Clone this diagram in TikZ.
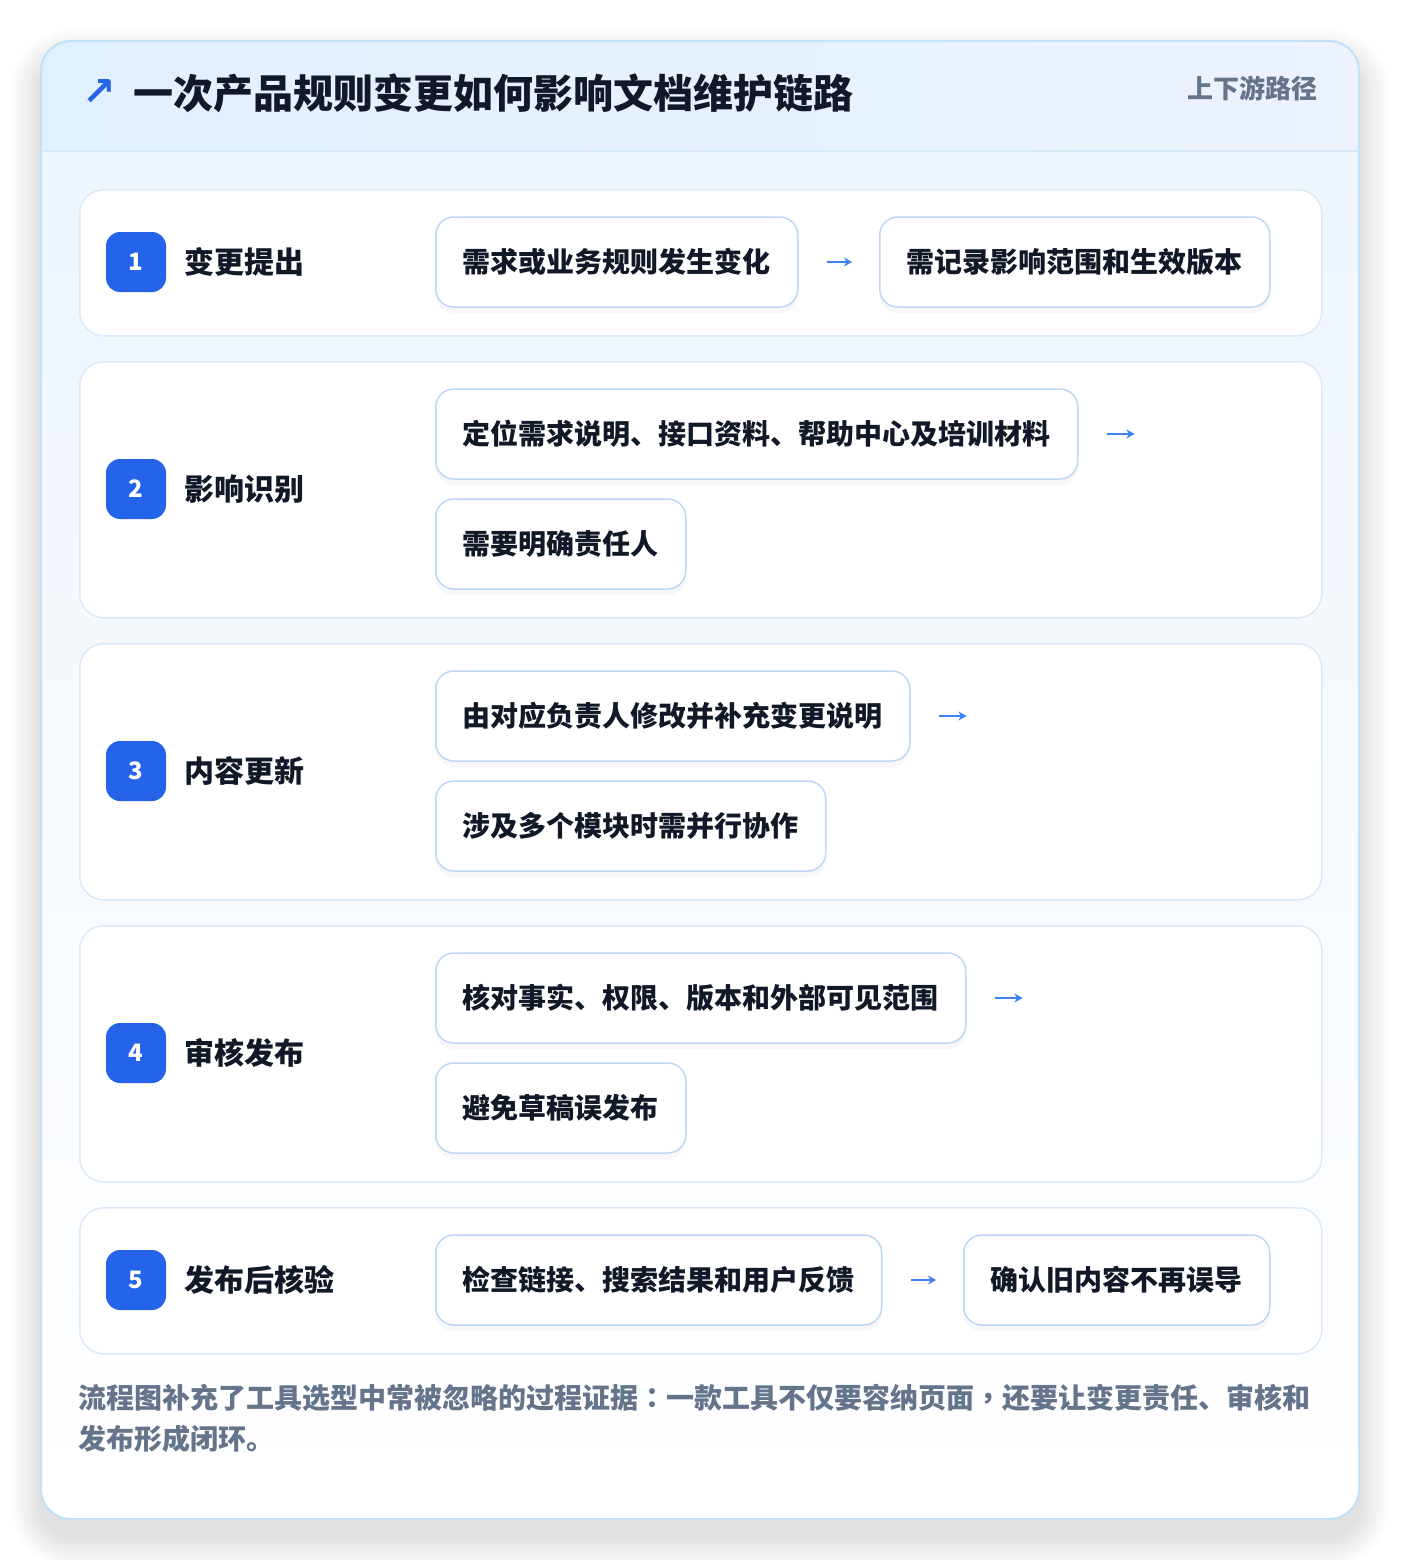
\documentclass[tikz,border=0pt]{standalone}
\usepackage{fontspec}
\setmainfont{Noto Sans CJK SC}
\newfontfamily\tcfont{Noto Sans CJK TC}
\newfontfamily\symfont{DejaVu Sans}
\usetikzlibrary{shadows,positioning,arrows.meta}
\definecolor{cardborder}{HTML}{C2E3F7}
\definecolor{headL}{HTML}{E1F0FD}
\definecolor{headR}{HTML}{ECF2FE}
\definecolor{headline}{HTML}{D6E8F8}
\definecolor{bodytop}{HTML}{EEF6FE}
\definecolor{rowborder}{HTML}{DCEAFA}
\definecolor{boxborder}{HTML}{BFD7F6}
\definecolor{badgeblue}{HTML}{2563EB}
\definecolor{arrblue}{HTML}{3B82F6}
\definecolor{darktext}{HTML}{111827}
\definecolor{graytext}{HTML}{64748B}
\tikzset{
  rowbox/.style={draw=rowborder, line width=1.5pt, fill=white, rounded corners=24pt,
    minimum width=1242pt, anchor=north west, inner sep=0pt},
  badge/.style={fill=badgeblue, rounded corners=14pt, minimum size=60pt, inner sep=0pt,
    text=white, font=\fontsize{24}{28}\selectfont\bfseries},
  lbl/.style={anchor=west, inner sep=0pt, text=darktext, font=\fontsize{30}{36}\selectfont\bfseries},
  stepbox/.style={draw=boxborder, line width=1.5pt, fill=white, rounded corners=18pt,
    inner xsep=27pt, inner ysep=0pt, minimum height=90pt, anchor=west, text=darktext,
    font=\fontsize{28}{34}\selectfont\bfseries,
    drop shadow={opacity=0.06, shadow xshift=0pt, shadow yshift=-6pt}},
  arrline/.style={draw=arrblue, line width=2.2pt, -{Stealth[length=8pt,width=9pt]}},
}
\begin{document}
\begin{tikzpicture}[x=1pt,y=-1pt]
\useasboundingbox (0,0) rectangle (1400,1560);
\fill[white] (0,0) rectangle (1400,1560);
% card shadow
\foreach \i in {1,...,30}{
  \pgfmathsetmacro{\rc}{30+\i}
  \fill[black, opacity=0.0045, rounded corners=\rc pt] (41-\i,41-\i+18) rectangle (1359+\i,1519+\i+18);
}
% card
\node[fill=white, rounded corners=30pt, minimum width=1318pt, minimum height=1478pt,
  anchor=north west, inner sep=0pt] (card) at (41,41) {};
\begin{scope}
  \clip[rounded corners=30pt] (41,41) rectangle (1359,1519);
  \shade[top color=bodytop, bottom color=white] (41,151) rectangle (1359,1519);
  \shade[left color=headL, right color=headR] (41,41) rectangle (1359,151);
  \draw[headline, line width=1.5pt] (41,151) -- (1359,151);
\end{scope}
\draw[cardborder, line width=2pt, rounded corners=30pt] (41,41) rectangle (1359,1519);
% header
\node[anchor=center, inner sep=0pt, text=badgeblue, font=\fontsize{40}{44}\selectfont\symfont\bfseries] (harrow) at (99,93) {↗};
\node[anchor=west, inner sep=0pt, text=darktext, font=\fontsize{40}{46}\selectfont\bfseries] (title) at (133,93) {一次产品规则变更如何影响文档维护链路};
\node[anchor=east, inner sep=0pt, text=graytext, font=\fontsize{26}{30}\selectfont\bfseries] (tag) at (1318,88) {上下游路径};
% rows
\node[rowbox, minimum height=146pt] (r1) at (79,189) {};
\node[rowbox, minimum height=256pt] (r2) at (79,361) {};
\node[rowbox, minimum height=256pt] (r3) at (79,643) {};
\node[rowbox, minimum height=256pt] (r4) at (79,925) {};
\node[rowbox, minimum height=146pt] (r5) at (79,1207) {};
% badges and labels
\node[badge] (b1) at (136,262) {1};
\node[lbl] (l1) at (184,262) {变更提出};
\node[badge] (b2) at (136,489) {2};
\node[lbl] (l2) at (184,489) {影响识别};
\node[badge] (b3) at (136,771) {3};
\node[lbl] (l3) at (184,771) {内容更新};
\node[badge] (b4) at (136,1053) {4};
\node[lbl] (l4) at (184,1053) {审核发布};
\node[badge] (b5) at (136,1280) {5};
\node[lbl] (l5) at (184,1280) {发布后核验};
% row 1
\node[stepbox] (a1) at (435,262) {需求或业务规则发生变化};
\node[stepbox] (c1) at (879,262) {需记录影响范围和生效版本};
\draw[arrline] ([xshift=28pt]a1.east) -- ([xshift=-27pt]c1.west);
% row 2
\node[stepbox] (a2) at (435,434) {定位需求说明、接口资料、帮助中心及培训材料};
\coordinate (e2) at ([xshift=56pt]a2.east);
\draw[arrline] ([xshift=28pt]a2.east) -- (e2);
\node[stepbox] (c2) at (435,544) {需要明确责任人};
% row 3
\node[stepbox] (a3) at (435,716) {由对应负责人修改并补充变更说明};
\coordinate (e3) at ([xshift=56pt]a3.east);
\draw[arrline] ([xshift=28pt]a3.east) -- (e3);
\node[stepbox] (c3) at (435,826) {涉及多个模块时需并行协作};
% row 4
\node[stepbox] (a4) at (435,998) {核对事实、权限、版本和外部可见范围};
\coordinate (e4) at ([xshift=56pt]a4.east);
\draw[arrline] ([xshift=28pt]a4.east) -- (e4);
\node[stepbox] (c4) at (435,1108) {避免草稿误发布};
% row 5
\node[stepbox] (a5) at (435,1280) {检查链接、搜索结果和用户反馈};
\node[stepbox] (c5) at (963,1280) {确认旧内容不再误导};
\draw[arrline] ([xshift=28pt]a5.east) -- ([xshift=-27pt]c5.west);
% footer
\node[anchor=north west, inner sep=0pt, align=left, text=graytext,
  font=\fontsize{28}{41}\selectfont\bfseries] (foot) at (78,1384)
  {流程图补充了工具选型中常被忽略的过程证据{\tcfont\bfseries ：}一款工具不仅要容纳页面{\tcfont\bfseries ，}还要让变更责任、审核和\\发布形成闭环。};
\end{tikzpicture}
\end{document}
